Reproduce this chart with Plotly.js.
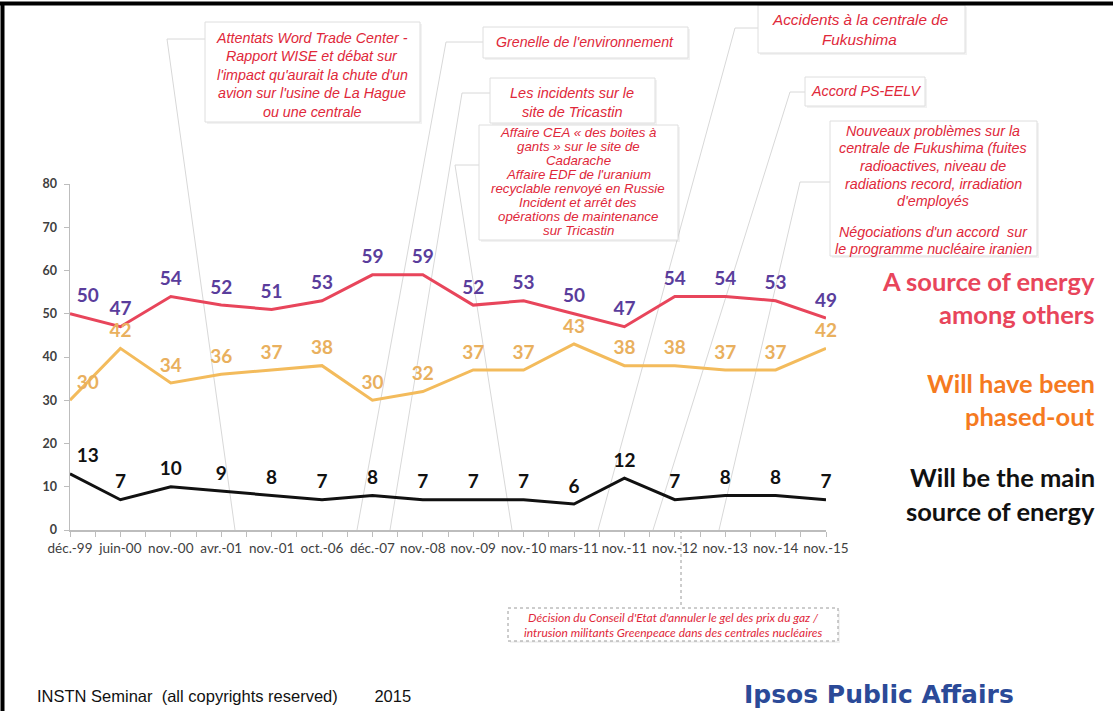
<!DOCTYPE html>
<html>
<head>
<meta charset="utf-8">
<script src="https://cdn.plot.ly/plotly-3.0.1.min.js"></script>
<style>
  html, body { margin: 0; padding: 0; background: #fff; }
  #chart { width: 1113px; height: 711px; }
</style>
</head>
<body>
<div id="chart"></div>
<script>
// ---------- DATA ----------
const categories = ['déc.-99','juin-00','nov.-00','avr.-01','nov.-01','oct.-06','déc.-07','nov.-08','nov.-09','nov.-10','mars-11','nov.-11','nov.-12','nov.-13','nov.-14','nov.-15'];
const sourceAmongOthers = [50,47,54,52,51,53,59,59,52,53,50,47,54,54,53,49];
const phasedOut        = [30,42,34,36,37,38,30,32,37,37,43,38,38,37,37,42];
const mainSource       = [13,7,10,9,8,7,8,7,7,7,6,12,7,8,8,7];
const yTickValues      = [0,10,20,30,40,50,60,70,80];
const seriesNames = ['A source of energy among others','Will have been phased-out','Will be the main source of energy'];

// ---------- LAYOUT HELPERS (pixel -> paper) ----------
const L = 70, R = 826, T = 184, B = 530;
const X = p => (p - L) / (R - L);
const Y = p => (B - p) / (B - T);
const idx = categories.map((c, i) => i);

const RED = '#e8455b', ORANGE = '#f3bb5c', BLACK = '#111111';
const PURPLE = '#5a3d9c', ORANGE_LBL = '#e9b05e';
const BOX_RED = '#e0283a';

function labelPos() { return idx.map(i => i === 0 ? 'top right' : 'top center'); }

function mkTrace(vals, lineColor, lblColor, name) {
  return {
    x: idx, y: vals, name: name, type: 'scatter', mode: 'lines+markers+text',
    line: { color: lineColor, width: 3 },
    marker: { size: 9, opacity: 0, color: lineColor },
    text: vals.map(String), textposition: labelPos(),
    textfont: { family: 'Lato', size: 19, color: lblColor, weight: 700 },
    cliponaxis: false, hoverinfo: 'skip', showlegend: false
  };
}

const traces = [
  mkTrace(sourceAmongOthers, RED, PURPLE, seriesNames[0]),
  mkTrace(phasedOut, ORANGE, ORANGE_LBL, seriesNames[1]),
  mkTrace(mainSource, BLACK, BLACK, seriesNames[2])
];

const shapes = [];
function line(x0, y0, x1, y1, color, width, dash) {
  shapes.push({ type: 'line', xref: 'paper', yref: 'paper', x0: X(x0), y0: Y(y0), x1: X(x1), y1: Y(y1),
    line: { color: color, width: width, dash: dash || 'solid' }, layer: 'below' });
}
function box(x0, y0, x1, y1, dash) {
  shapes.push({ type: 'rect', xref: 'paper', yref: 'paper', x0: X(x0 + 2), y0: Y(y1 + 2), x1: X(x1 + 2), y1: Y(y0 + 2),
    line: { width: 0 }, fillcolor: 'rgba(0,0,0,0.05)', layer: 'below' });
  shapes.push({ type: 'rect', xref: 'paper', yref: 'paper', x0: X(x0), y0: Y(y1), x1: X(x1), y1: Y(y0),
    line: { color: dash ? '#9a9a9a' : '#dedede', width: 1, dash: dash ? 'dot' : 'solid' }, fillcolor: '#ffffff', layer: 'below' });
}

const LC = '#d8d8d8';
// leader lines
line(167, 39, 205, 39, LC, 1); line(167, 39, 235, 530, LC, 1);
line(446, 42, 483, 42, LC, 1); line(446, 42, 357, 530, LC, 1);
line(462, 93, 490, 93, LC, 1); line(462, 93, 390, 530, LC, 1);
line(455, 165, 479, 165, LC, 1); line(455, 165, 512, 530, LC, 1);
line(735, 28, 758, 28, LC, 1); line(735, 28, 598, 530, LC, 1);
line(790, 92, 805, 92, LC, 1); line(790, 92, 653, 530, LC, 1);
line(800, 182, 830, 182, LC, 1); line(800, 182, 719, 530, LC, 1);
// dashed drop line to bottom box
line(681, 530, 681, 608, '#9a9a9a', 1, 'dot');

// boxes
box(205, 22, 420, 122);
box(483, 27, 688, 58);
box(758, 5, 965, 53);
box(490, 78, 655, 123);
box(479, 125, 678, 240);
box(805, 77, 925, 106);
box(830, 121, 1037, 256);
box(508, 608, 838, 641, true);

// slide frame
line(0, 3.5, 1113, 3.5, '#000', 4);
line(2.5, 2, 2.5, 711, '#000', 4);
shapes.forEach(s => { if (s.line && s.line.color === '#000') s.layer = 'above'; });

const annotations = [];
function txt(x, y, text, size, color, opts) {
  opts = opts || {};
  annotations.push(Object.assign({
    xref: 'paper', yref: 'paper', x: X(x), y: Y(y), text: text, showarrow: false,
    xanchor: 'center', yanchor: 'middle', align: 'center',
    font: { family: opts.family || 'Liberation Sans', size: size, color: color, weight: opts.weight || 400, style: opts.style || 'normal' }
  }, opts.extra || {}));
}
function block(cx, y0, spacing, lines, size, family) {
  lines.forEach((t, k) => txt(cx, y0 + k * spacing, '<i>' + t + '</i>', size, BOX_RED, { family: family, style: 'italic' }));
}
block(312, 38, 18.5, ["Attentats Word Trade Center -", "Rapport WISE et débat sur", "l'impact qu'aurait la chute d'un", "avion sur l'usine de La Hague", "ou une centrale"], 14.3);
block(585, 42, 0, ["Grenelle de l'environnement"], 14.2);
block(860, 19, 20.5, ["Accidents à la centrale de", "Fukushima"], 15.3);
block(572, 93, 19, ["Les incidents sur le", "site de Tricastin"], 14.5);
block(578, 132, 14.1, ["Affaire CEA « des boites à", "gants » sur le site de", "Cadarache", "Affaire EDF de l'uranium", "recyclable renvoyé en Russie", "Incident et arrêt des", "opérations de maintenance", "sur Tricastin"], 13.3);
block(866, 91, 0, ["Accord PS-EELV"], 14.3);
block(933, 131, 17.5, ["Nouveaux problèmes sur la", "centrale de Fukushima (fuites", "radioactives, niveau de", "radiations record, irradiation", "d'employés"], 14.3);
block(933, 232, 16.5, ["Négociations d'un accord  sur", "le programme nucléaire iranien"], 14.3);
block(673, 617, 15, ["Décision du Conseil d'Etat d'annuler le gel des prix du gaz /", "intrusion militants Greenpeace dans des centrales nucléaires"], 12, 'Lato');

// series labels on the right
const rl = (y, t, c) => txt(1097, y, t, 25.5, c, { family: 'Lato', weight: 700, extra: { xanchor: 'right', align: 'right' } });
rl(281, 'A source of energy', RED); rl(314, 'among others', RED);
rl(383, 'Will have been', '#f57a1f'); rl(416, 'phased-out', '#f57a1f');
rl(477, 'Will be the main', BLACK); rl(511, 'source of energy', BLACK);

// footer
txt(35, 696, 'INSTN Seminar \u00A0(all copyrights reserved) \u00A0\u00A0\u00A0\u00A0\u00A0\u00A0 2015', 16.5, '#111', { extra: { xanchor: 'left' } });
txt(879, 694, 'Ipsos Public Affairs', 25, '#2b4a98', { family: 'DejaVu Sans', weight: 700 });

const layout = {
  width: 1113, height: 711,
  margin: { l: L, r: 1113 - R, t: T, b: 711 - B, pad: 0 },
  paper_bgcolor: '#ffffff', plot_bgcolor: 'rgba(0,0,0,0)',
  showlegend: false,
  xaxis: {
    type: 'linear', range: [0, categories.length - 1], tickmode: 'array', tickvals: idx, ticktext: categories,
    showgrid: false, zeroline: false, showline: true, linecolor: '#bdbdbd', linewidth: 1.5,
    ticks: 'outside', ticklen: 5, tickcolor: '#bdbdbd', tickwidth: 1, tickangle: 0,
    minor: { tickmode: 'linear', tick0: 0.5, dtick: 1, ticks: 'outside', ticklen: 5, tickcolor: '#bdbdbd', showgrid: false },
    tickfont: { family: 'Lato', size: 13.5, color: '#404040' }, fixedrange: true
  },
  yaxis: {
    range: [0, 80], tickmode: 'array', tickvals: yTickValues,
    showgrid: false, zeroline: false, showline: true, linecolor: '#bdbdbd', linewidth: 1.5,
    ticks: 'outside', ticklen: 5, tickcolor: '#bdbdbd', ticklabelstandoff: 4,
    tickfont: { family: 'Lato', size: 12.5, color: '#404040', weight: 700 }, fixedrange: true
  },
  shapes: shapes,
  annotations: annotations
};

Plotly.newPlot('chart', traces, layout, { displayModeBar: false, staticPlot: true });
</script>
</body>
</html>
